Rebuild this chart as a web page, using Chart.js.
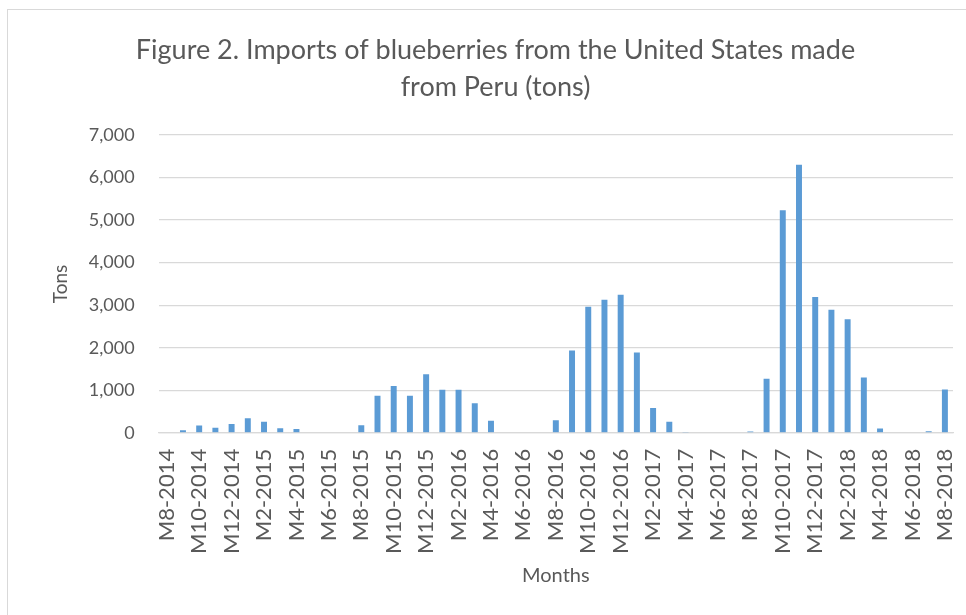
<!DOCTYPE html>
<html lang="en">
<head>
    <meta charset="UTF-8">
    <title>Imports of blueberries from Peru</title>
    <style>
        html, body {
            margin: 0;
            padding: 0;
            background: #fff;
            overflow: hidden;
            width: 966px;
            height: 615px;
        }
        #chart-box {
            position: absolute;
            left: 7px;
            top: 9px;
            width: 975px;
            height: 620px;
            border: 1px solid #d9d9d9;
            background: #fff;
        }
    </style>
</head>
<body>
    <div id="chart-box">
        <canvas id="importsChart" width="975" height="620"></canvas>
    </div>
    <script src="https://cdn.jsdelivr.net/npm/chart.js"></script>
    <script>
        const months = [
            'M8-2014', 'M9-2014', 'M10-2014', 'M11-2014', 'M12-2014',
            'M1-2015', 'M2-2015', 'M3-2015', 'M4-2015', 'M5-2015', 'M6-2015',
            'M7-2015', 'M8-2015', 'M9-2015', 'M10-2015', 'M11-2015', 'M12-2015',
            'M1-2016', 'M2-2016', 'M3-2016', 'M4-2016', 'M5-2016', 'M6-2016',
            'M7-2016', 'M8-2016', 'M9-2016', 'M10-2016', 'M11-2016', 'M12-2016',
            'M1-2017', 'M2-2017', 'M3-2017', 'M4-2017', 'M5-2017', 'M6-2017',
            'M7-2017', 'M8-2017', 'M9-2017', 'M10-2017', 'M11-2017', 'M12-2017',
            'M1-2018', 'M2-2018', 'M3-2018', 'M4-2018', 'M5-2018', 'M6-2018',
            'M7-2018', 'M8-2018'
        ];
        const tons = [
            0, 60, 175, 120, 205,
            345, 260, 105, 90, 0, 0,
            0, 180, 870, 1100, 870, 1375,
            1010, 1010, 695, 285, 0, 0,
            0, 296, 1935, 2965, 3125, 3245,
            1890, 585, 258, 18, 0, 0,
            0, 30, 1270, 5230, 6300, 3190,
            2890, 2670, 1300, 100, 0, 15,
            40, 1020
        ];
        const titleLines = ['Figure 2. Imports of blueberries from the United States made', 'from Peru (tons)'];

        const textColor = '#595959';
        const fontFamily = 'Lato, "Open Sans", sans-serif';

        const ctx = document.getElementById('importsChart').getContext('2d');
        new Chart(ctx, {
            type: 'bar',
            data: {
                labels: months,
                datasets: [{
                    label: 'Tons',
                    data: tons,
                    backgroundColor: '#5b9bd5',
                    borderWidth: 0,
                    barPercentage: 0.4,
                    categoryPercentage: 0.92
                }]
            },
            options: {
                responsive: false,
                animation: false,
                devicePixelRatio: 1,
                layout: {
                    padding: { left: 30, right: 30, top: 16, bottom: 42 }
                },
                plugins: {
                    legend: { display: false },
                    tooltip: { enabled: false },
                    title: {
                        display: true,
                        text: titleLines,
                        color: textColor,
                        font: { family: fontFamily, size: 27, weight: 'normal', lineHeight: 1.37 },
                        padding: { top: 6, bottom: 29 }
                    }
                },
                scales: {
                    x: {
                        grid: { display: false },
                        border: { display: true, color: '#d9d9d9', width: 1.3 },
                        ticks: {
                            autoSkip: false,
                            minRotation: 90,
                            maxRotation: 90,
                            color: textColor,
                            padding: 8,
                            font: { family: fontFamily, size: 22 },
                            callback: function (value, index) {
                                return index % 2 === 0 ? this.getLabelForValue(value) : '';
                            }
                        },
                        title: {
                            display: true,
                            text: 'Months',
                            color: textColor,
                            font: { family: fontFamily, size: 20 },
                            padding: { top: 2, bottom: 0 }
                        }
                    },
                    y: {
                        min: 0,
                        max: 7000,
                        grid: {
                            color: '#d9d9d9',
                            lineWidth: 1.3,
                            drawTicks: false
                        },
                        border: { display: false },
                        ticks: {
                            stepSize: 1000,
                            color: textColor,
                            padding: 24,
                            font: { family: fontFamily, size: 18 },
                            callback: value => value.toLocaleString('en-US')
                        },
                        title: {
                            display: true,
                            text: 'Tons',
                            color: textColor,
                            font: { family: fontFamily, size: 19 },
                            padding: { top: 11, bottom: -7 }
                        }
                    }
                }
            }
        });
    </script>
</body>
</html>
